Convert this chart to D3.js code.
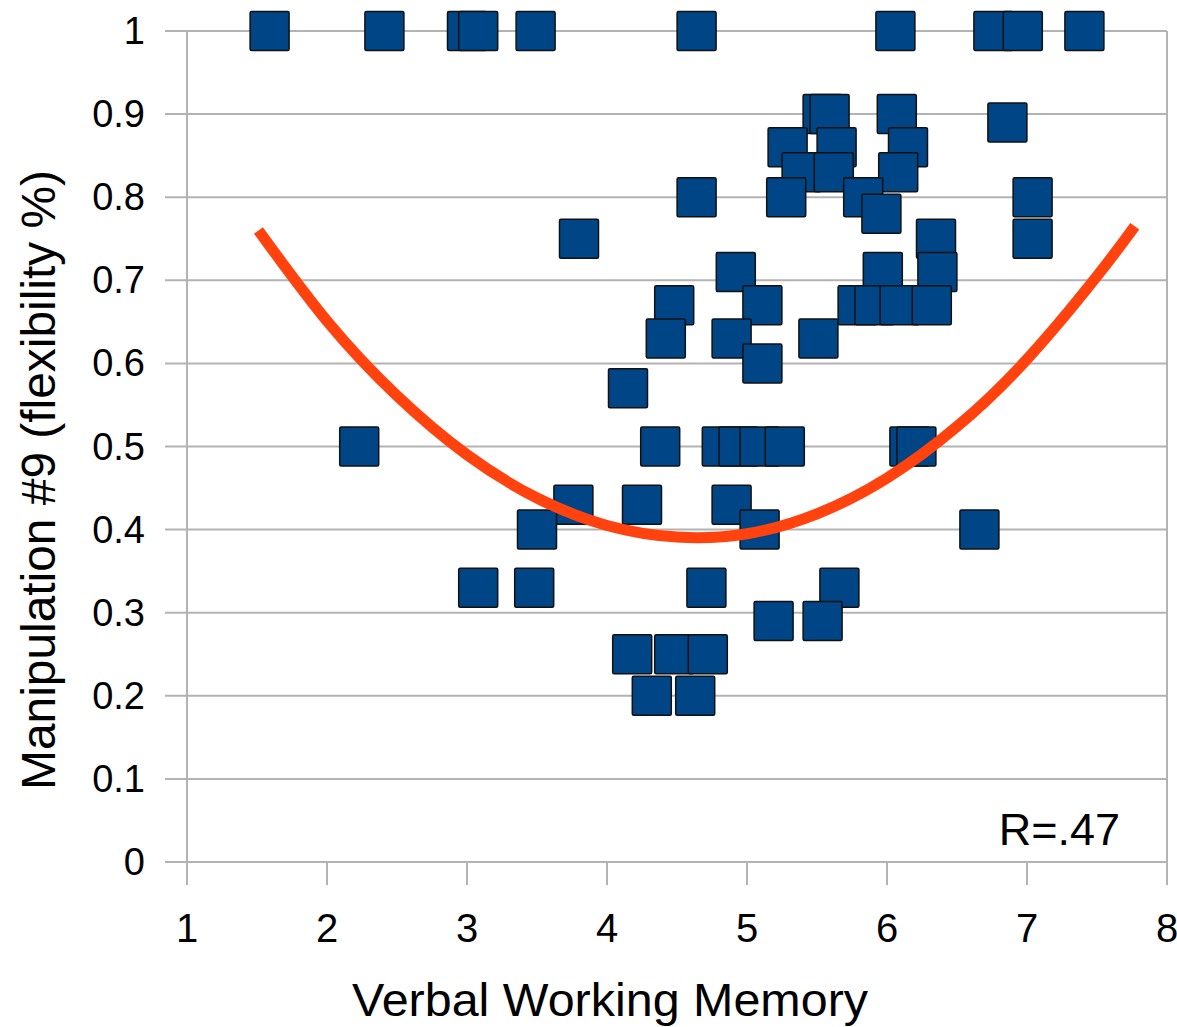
<!DOCTYPE html>
<html>
<head>
<meta charset="utf-8">
<script src="https://cdn.jsdelivr.net/npm/d3@7"></script>
<style>
  body { margin: 0; background: #fff; }
  text { font-family: "Liberation Sans", Arial, sans-serif; fill: #000; }
</style>
</head>
<body>
<div id="chart"></div>
<script>
// data
var memory = [1.59, 2.41, 3.00, 3.08, 3.49, 4.64, 6.06, 6.76, 6.97, 7.41,
  5.54, 5.59, 6.07, 6.86,
  5.29, 5.64, 6.15,
  5.39, 5.62, 6.08,
  4.64, 5.28, 5.83, 7.04, 5.96,
  3.80, 6.35, 7.04,
  4.92, 5.97, 6.36,
  4.48, 5.11, 5.79, 5.91, 6.09, 6.32,
  4.42, 4.89, 5.51, 5.11, 4.15,
  2.23, 4.38, 4.82, 4.94, 5.09, 5.27, 6.16, 6.21,
  3.76, 4.25, 4.89,
  3.50, 5.09, 6.66,
  3.08, 3.48, 4.71, 5.66,
  5.19, 5.54,
  4.18, 4.48, 4.72,
  4.32, 4.63]
var flexibility = [1, 1, 1, 1, 1, 1, 1, 1, 1, 1,
  0.9, 0.9, 0.9, 0.89,
  0.86, 0.86, 0.86,
  0.83, 0.83, 0.83,
  0.8, 0.8, 0.8, 0.8, 0.78,
  0.75, 0.75, 0.75,
  0.71, 0.71, 0.71,
  0.67, 0.67, 0.67, 0.67, 0.67, 0.67,
  0.63, 0.63, 0.63, 0.6, 0.57,
  0.5, 0.5, 0.5, 0.5, 0.5, 0.5, 0.5, 0.5,
  0.43, 0.43, 0.43,
  0.4, 0.4, 0.4,
  0.33, 0.33, 0.33, 0.33,
  0.29, 0.29,
  0.25, 0.25, 0.25,
  0.2, 0.2]
// trend line, read at a few places along the curve
var trendX = [1.51, 2, 2.5, 3, 3.5, 4, 4.5, 5, 5.5, 6, 6.5, 7, 7.5, 7.77]
var trendY = [0.76, 0.651, 0.561, 0.49, 0.438, 0.405, 0.391, 0.395, 0.419, 0.462, 0.524, 0.605, 0.705, 0.765]
var xTicks = [1, 2, 3, 4, 5, 6, 7, 8]
var yTicks = [0, 0.1, 0.2, 0.3, 0.4, 0.5, 0.6, 0.7, 0.8, 0.9, 1]

var width = 1177
var height = 1027
var margin = {left: 187, right: 10, top: 31, bottom: 165}

var svg = d3.select("#chart")
  .append("svg")
  .attr("width", width)
  .attr("height", height)

var x = d3.scaleLinear().domain([1, 8]).range([margin.left, width - margin.right])
var y = d3.scaleLinear().domain([0, 1]).range([height - margin.bottom, margin.top])

// horizontal grid lines with the little ticks to the left
svg.append("g")
  .selectAll("line")
  .data(yTicks)
  .enter()
  .append("line")
  .attr("x1", margin.left - 22)
  .attr("x2", x(8))
  .attr("y1", d => y(d))
  .attr("y2", d => y(d))
  .attr("stroke", "#b3b3b3")
  .attr("stroke-width", 2)

// y axis line and right border
svg.append("line")
  .attr("x1", x(1)).attr("x2", x(1))
  .attr("y1", y(1)).attr("y2", y(0) + 23)
  .attr("stroke", "#b3b3b3").attr("stroke-width", 2)
svg.append("line")
  .attr("x1", x(8)).attr("x2", x(8))
  .attr("y1", y(1)).attr("y2", y(0) + 23)
  .attr("stroke", "#b3b3b3").attr("stroke-width", 2)

// x ticks
svg.append("g")
  .selectAll("line")
  .data(xTicks)
  .enter()
  .append("line")
  .attr("x1", d => x(d))
  .attr("x2", d => x(d))
  .attr("y1", y(0))
  .attr("y2", y(0) + 23)
  .attr("stroke", "#b3b3b3")
  .attr("stroke-width", 2)

// tick labels
svg.append("g")
  .selectAll("text")
  .data(yTicks)
  .enter()
  .append("text")
  .attr("x", 145)
  .attr("y", d => y(d) + 13)
  .attr("text-anchor", "end")
  .style("font-size", "38px")
  .text(d => d)

svg.append("g")
  .selectAll("text")
  .data(xTicks)
  .enter()
  .append("text")
  .attr("x", d => x(d))
  .attr("y", 942)
  .attr("text-anchor", "middle")
  .style("font-size", "40px")
  .text(d => d)

// axis titles
svg.append("text")
  .attr("x", 610)
  .attr("y", 1016)
  .attr("text-anchor", "middle")
  .attr("textLength", 516)
  .attr("lengthAdjust", "spacingAndGlyphs")
  .style("font-size", "46px")
  .text("Verbal Working Memory")

svg.append("text")
  .attr("transform", "translate(55,480) rotate(-90)")
  .attr("text-anchor", "middle")
  .attr("textLength", 620)
  .attr("lengthAdjust", "spacingAndGlyphs")
  .style("font-size", "48px")
  .text("Manipulation #9 (flexibility %)")

// points
var points = memory.map((d, i) => ({x: d, y: flexibility[i]}))
var size = 39
svg.append("g")
  .selectAll("rect")
  .data(points)
  .enter()
  .append("rect")
  .attr("x", d => x(d.x) - size / 2)
  .attr("y", d => y(d.y) - size / 2)
  .attr("width", size)
  .attr("height", size)
  .attr("rx", 1.5)
  .attr("fill", "#004586")
  .attr("stroke", "#111")
  .attr("stroke-width", 1.5)

// trend line
var trend = trendX.map((d, i) => [d, trendY[i]])
svg.append("path")
  .datum(trend)
  .attr("d", d3.line()
    .x(d => x(d[0]))
    .y(d => y(d[1]))
    .curve(d3.curveNatural))
  .attr("fill", "none")
  .attr("stroke", "#ff420e")
  .attr("stroke-width", 11)

svg.append("text")
  .attr("x", 1120)
  .attr("y", 845)
  .attr("text-anchor", "end")
  .style("font-size", "45px")
  .text("R=.47")
</script>
</body>
</html>
